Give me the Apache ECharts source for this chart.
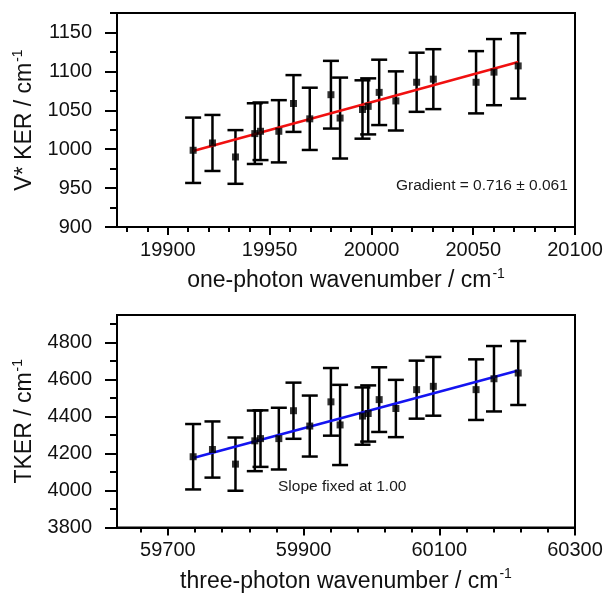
<!DOCTYPE html>
<html>
<head>
<meta charset="utf-8">
<script src="https://cdn.jsdelivr.net/npm/echarts@6/dist/echarts.min.js"></script>
<style>
  html, body { margin: 0; padding: 0; background: #ffffff; }
  #chart { width: 606px; height: 594px; }
</style>
</head>
<body>
<div id="chart"></div>
<script>
// ---------- data: top panel (one-photon) ----------
const topX = [19912.4, 19921.9, 19933.2, 19942.7, 19945.5, 19954.5, 19961.7, 19969.7, 19980.1, 19984.6,
              19995.6, 19998.4, 20003.8, 20012.0, 20022.2, 20030.4, 20051.4, 20060.2, 20072.1];
const topY = [998.6, 1008, 990, 1020, 1023, 1023, 1058.7, 1039, 1070, 1040,
              1051, 1055, 1073, 1062, 1086, 1090, 1086, 1099, 1107];
const topErr = [42, 36, 34.5, 39, 37, 40, 36.5, 40, 43.5, 52,
                37.5, 36, 42, 38, 38, 38.5, 40, 42.5, 42];
const topFitX = [19912.4, 20072.1];
const topFitY = [997.7, 1112];
const topXTicks = [19900, 19950, 20000, 20050, 20100];
const topYTicks = [900, 950, 1000, 1050, 1100, 1150];

// ---------- data: bottom panel (three-photon) ----------
const botX = [59737.2, 59765.7, 59799.6, 59828.1, 59836.5, 59863.5, 59885.1, 59909.1, 59940.3, 59953.8,
              59986.8, 59995.2, 60011.4, 60036.0, 60066.6, 60091.2, 60154.2, 60180.6, 60216.3];
const botY = [4183, 4222, 4143, 4269, 4281, 4281, 4432, 4349, 4480, 4355,
              4403, 4417, 4492, 4444, 4546, 4564, 4546, 4605, 4636];
const botErr = [177, 152, 144, 164, 153, 167, 152, 165, 183, 217,
                155, 152, 175, 155, 157, 159, 164, 177, 173];
const botFitX = [59737.2, 60216.3];
const botFitY = [4176, 4650];
const botXTicks = [59700, 59900, 60100, 60300];
const botYTicks = [3800, 4000, 4200, 4400, 4600, 4800];

const topXRange = [19875, 20100], topYRange = [900, 1175];
const botXRange = [59625, 60300], botYRange = [3800, 4950];

function minorOf(ticks, n, range) {
  const step = (ticks[1] - ticks[0]) / n;
  const out = [];
  for (let v = ticks[0] - step * n; v <= range[1] + 1e-9; v += step) {
    const isMajor = ticks.some(t => Math.abs(t - v) < 1e-6);
    if (!isMajor && v >= range[0] - 1e-9) out.push(+v.toFixed(6));
  }
  return out;
}

const FONT = 'Liberation Sans, Arial, sans-serif';
const TXT = '#111111';
const plain = v => String(Math.round(v));

function richName(text) { return '{a|' + text + '}{s|-1}'; }
const nameStyle = {
  fontFamily: FONT, color: TXT,
  rich: {
    a: { fontSize: 23, fontFamily: FONT, color: TXT, lineHeight: 28 },
    s: { fontSize: 14, fontFamily: FONT, color: TXT, verticalAlign: 'top', lineHeight: 14, padding: [0, 0, 0, 1] }
  }
};

function mainXAxis(g, range, ticks, name) {
  return {
    gridIndex: g, type: 'value', position: 'bottom', min: range[0], max: range[1],
    axisLine: { show: true, onZero: false, lineStyle: { color: '#000', width: 2 } },
    axisTick: { show: true, inside: false, length: 8, customValues: ticks, lineStyle: { color: '#000', width: 2 } },
    axisLabel: { show: true, customValues: ticks, formatter: plain, margin: 13, fontSize: 20, fontFamily: FONT, color: TXT },
    splitLine: { show: false },
    name: richName(name), nameLocation: 'middle', nameGap: 40, nameTextStyle: nameStyle
  };
}
function minorXAxis(g, range, minor) {
  return {
    gridIndex: g, type: 'value', position: 'bottom', min: range[0], max: range[1],
    axisLine: { show: false, onZero: false },
    axisTick: { show: true, inside: false, length: 5, customValues: minor, lineStyle: { color: '#000', width: 2 } },
    axisLabel: { show: false }, splitLine: { show: false }
  };
}
function mainYAxis(g, range, ticks, name) {
  return {
    gridIndex: g, type: 'value', position: 'left', min: range[0], max: range[1],
    axisLine: { show: true, onZero: false, lineStyle: { color: '#000', width: 2 } },
    axisTick: { show: true, inside: false, length: 12, customValues: ticks, lineStyle: { color: '#000', width: 2 } },
    axisLabel: { show: true, customValues: ticks, formatter: plain, margin: 25, fontSize: 20, fontFamily: FONT, color: TXT },
    splitLine: { show: false },
    name: richName(name), nameLocation: 'middle', nameGap: 76, nameRotate: 90, nameTextStyle: nameStyle
  };
}
function minorYAxis(g, range, minor) {
  return {
    gridIndex: g, type: 'value', position: 'left', min: range[0], max: range[1],
    axisLine: { show: false, onZero: false },
    axisTick: { show: true, inside: false, length: 7, customValues: minor, lineStyle: { color: '#000', width: 2 } },
    axisLabel: { show: false }, splitLine: { show: false }
  };
}

function errRender(params, api) {
  const x = api.value(0), lo = api.value(1), hi = api.value(2);
  const a = api.coord([x, lo]), b = api.coord([x, hi]);
  const w = 8;
  const st = { stroke: '#000', lineWidth: 2.5, fill: null };
  return {
    type: 'group',
    children: [
      { type: 'line', shape: { x1: a[0], y1: a[1], x2: b[0], y2: b[1] }, style: st },
      { type: 'line', shape: { x1: a[0] - w, y1: a[1], x2: a[0] + w, y2: a[1] }, style: st },
      { type: 'line', shape: { x1: b[0] - w, y1: b[1], x2: b[0] + w, y2: b[1] }, style: st }
    ]
  };
}

function panelSeries(idx, xs, ys, errs, fitX, fitY, color) {
  return [
    {
      type: 'custom', xAxisIndex: idx * 2, yAxisIndex: idx * 2,
      renderItem: errRender, encode: { x: 0, y: [1, 2] },
      data: xs.map((x, i) => [x, ys[i] - errs[i], ys[i] + errs[i]]), z: 2, silent: true
    },
    {
      type: 'line', xAxisIndex: idx * 2, yAxisIndex: idx * 2,
      data: fitX.map((x, i) => [x, fitY[i]]), showSymbol: false, symbol: 'none',
      lineStyle: { color: color, width: 2.5 }, z: 3, silent: true
    },
    {
      type: 'scatter', xAxisIndex: idx * 2, yAxisIndex: idx * 2,
      data: xs.map((x, i) => [x, ys[i]]), symbol: 'rect', symbolSize: 7,
      itemStyle: { color: '#000' }, z: 4, silent: true
    }
  ];
}

const chart = echarts.init(document.getElementById('chart'), null, { renderer: 'canvas' });
chart.setOption({
  backgroundColor: '#ffffff',
  animation: false,
  grid: [
    { left: 117, right: 31, top: 13, height: 214, show: true, borderColor: '#000', borderWidth: 2, backgroundColor: 'transparent' },
    { left: 117, right: 31, top: 315, height: 214, show: true, borderColor: '#000', borderWidth: 2, backgroundColor: 'transparent' }
  ],
  xAxis: [
    mainXAxis(0, topXRange, topXTicks, 'one-photon wavenumber / cm'),
    minorXAxis(0, topXRange, minorOf(topXTicks, 5, topXRange)),
    mainXAxis(1, botXRange, botXTicks, 'three-photon wavenumber / cm'),
    minorXAxis(1, botXRange, minorOf(botXTicks, 5, botXRange))
  ],
  yAxis: [
    mainYAxis(0, topYRange, topYTicks, 'V* KER / cm'),
    minorYAxis(0, topYRange, minorOf(topYTicks, 2, topYRange)),
    mainYAxis(1, botYRange, botYTicks, 'TKER / cm'),
    minorYAxis(1, botYRange, minorOf(botYTicks, 2, botYRange))
  ],
  series: [].concat(
    panelSeries(0, topX, topY, topErr, topFitX, topFitY, '#f01010'),
    panelSeries(1, botX, botY, botErr, botFitX, botFitY, '#1414f0')
  ),
  graphic: [
    { type: 'text', left: 396, top: 178, style: { text: 'Gradient = 0.716 \u00b1 0.061', font: '15.5px ' + FONT, fill: '#1a1a1a' } },
    { type: 'text', left: 278, top: 479, style: { text: 'Slope fixed at 1.00', font: '15.5px ' + FONT, fill: '#1a1a1a' } }
  ]
});
</script>
</body>
</html>
